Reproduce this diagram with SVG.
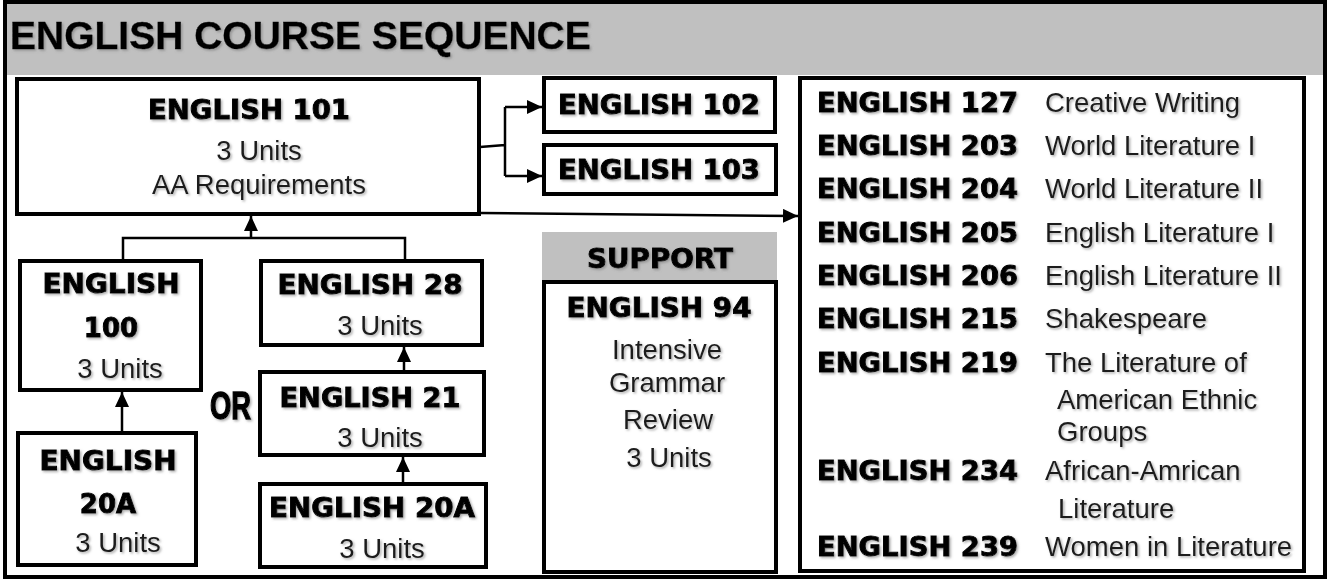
<svg xmlns="http://www.w3.org/2000/svg" width="1328" height="580" viewBox="0 0 1328 580">
<style>
.box{fill:#fff;stroke:#000;stroke-width:4;}
.hdr{fill:#c0c0c0;}
.b{font-family:"DejaVu Sans",sans-serif;font-weight:bold;font-size:26px;fill:#000;stroke:#000;stroke-width:0.9;}
.r{font-family:"Liberation Sans",Arial,sans-serif;font-size:27.5px;fill:#1e1e1e;}
.c{text-anchor:middle;}
.t{font-family:"Liberation Sans",Arial,sans-serif;font-weight:bold;font-size:39px;fill:#000;}
.ln{fill:none;stroke:#000;stroke-width:2.5;}
.sh{filter:url(#shadow);}
</style>
<defs>
<filter id="shadow" x="-10%" y="-30%" width="120%" height="160%">
<feDropShadow dx="1.5" dy="1.5" stdDeviation="0.9" flood-color="#777" flood-opacity="0.6"/>
</filter>
<marker id="arr" markerUnits="userSpaceOnUse" markerWidth="16" markerHeight="15" refX="15" refY="7" orient="auto">
<path d="M0,0 L15,7 L0,14 z" fill="#000"/>
</marker>
</defs>
<rect x="0" y="0" width="1328" height="580" fill="#fff"/>
<rect x="5" y="2" width="1320" height="575" fill="#fff" stroke="#000" stroke-width="4"/>
<g id="header">
<rect class="hdr" x="7" y="4" width="1316" height="71"/>
<text class="t sh" x="10" y="49" style="stroke:#000;stroke-width:0.4">ENGLISH COURSE SEQUENCE</text>
</g>
<g id="connectors">
<path class="ln" d="M480,147 L505,145 M505,107 V176"/>
<path class="ln" d="M505,107 H542" marker-end="url(#arr)"/>
<path class="ln" d="M505,176 H542" marker-end="url(#arr)"/>
<path class="ln" d="M480,213 L798,216" marker-end="url(#arr)"/>
<path class="ln" d="M123,260 V238 H405 V260"/>
<path class="ln" d="M251,238 V216" marker-end="url(#arr)"/>
<path class="ln" d="M122,432 V392" marker-end="url(#arr)"/>
<path class="ln" d="M404,371 V347" marker-end="url(#arr)"/>
<path class="ln" d="M403,483 V457" marker-end="url(#arr)"/>
</g>
<g id="eng101">
<rect class="box" x="17" y="79" width="462" height="135"/>
<g class="sh">
<text class="b c" x="249" y="119" textLength="202" lengthAdjust="spacingAndGlyphs">ENGLISH 101</text>
<text class="r c" x="259" y="160">3 Units</text>
<text class="r c" x="259" y="194">AA Requirements</text>
</g>
</g>
<g id="eng102">
<rect class="box" x="544" y="78" width="231" height="54"/>
<text class="b c sh" x="659" y="114" textLength="202" lengthAdjust="spacingAndGlyphs">ENGLISH 102</text>
</g>
<g id="eng103">
<rect class="box" x="544" y="145" width="232" height="49"/>
<text class="b c sh" x="659" y="179" textLength="202" lengthAdjust="spacingAndGlyphs">ENGLISH 103</text>
</g>
<g id="eng100">
<rect class="box" x="20" y="261" width="181" height="129"/>
<g class="sh">
<text class="b c" x="111" y="293" textLength="137" lengthAdjust="spacingAndGlyphs">ENGLISH</text>
<text class="b c" x="111" y="337">100</text>
<text class="r c" x="120" y="378">3 Units</text>
</g>
</g>
<g id="eng20a-left">
<rect class="box" x="18" y="433" width="178" height="132"/>
<g class="sh">
<text class="b c" x="108" y="470" textLength="137" lengthAdjust="spacingAndGlyphs">ENGLISH</text>
<text class="b c" x="108" y="513">20A</text>
<text class="r c" x="118" y="552">3 Units</text>
</g>
</g>
<g id="or">
<text class="t sh" x="210" y="419" textLength="41" lengthAdjust="spacingAndGlyphs" style="stroke:#000;stroke-width:1.4">OR</text>
</g>
<g id="eng28">
<rect class="box" x="261" y="261" width="221" height="84"/>
<g class="sh">
<text class="b c" x="370" y="294" textLength="185" lengthAdjust="spacingAndGlyphs">ENGLISH 28</text>
<text class="r c" x="380" y="335">3 Units</text>
</g>
</g>
<g id="eng21">
<rect class="box" x="260" y="372" width="224" height="83"/>
<g class="sh">
<text class="b c" x="370" y="407" textLength="181" lengthAdjust="spacingAndGlyphs">ENGLISH 21</text>
<text class="r c" x="380" y="447">3 Units</text>
</g>
</g>
<g id="eng20a-right">
<rect class="box" x="260" y="484" width="226" height="83"/>
<g class="sh">
<text class="b c" x="372" y="517" textLength="206" lengthAdjust="spacingAndGlyphs">ENGLISH 20A</text>
<text class="r c" x="382" y="558">3 Units</text>
</g>
</g>
<g id="support">
<rect class="hdr" x="542" y="232" width="235" height="50"/>
<rect class="box" x="544" y="282" width="232" height="290"/>
<g class="sh">
<text class="b c" x="660" y="268" textLength="146" lengthAdjust="spacingAndGlyphs">SUPPORT</text>
<text class="b c" x="659" y="317" textLength="185" lengthAdjust="spacingAndGlyphs">ENGLISH 94</text>
<text class="r c" x="667" y="359">Intensive</text>
<text class="r c" x="667" y="392">Grammar</text>
<text class="r c" x="668" y="429">Review</text>
<text class="r c" x="669" y="467">3 Units</text>
</g>
</g>
<g id="electives">
<rect class="box" x="800" y="78" width="504" height="493"/>
<g class="sh">
<text class="b" x="817" y="112" textLength="201" lengthAdjust="spacingAndGlyphs">ENGLISH 127</text>
<text class="r" x="1045" y="112">Creative Writing</text>
<text class="b" x="817" y="155" textLength="201" lengthAdjust="spacingAndGlyphs">ENGLISH 203</text>
<text class="r" x="1045" y="155">World Literature I</text>
<text class="b" x="817" y="198" textLength="201" lengthAdjust="spacingAndGlyphs">ENGLISH 204</text>
<text class="r" x="1045" y="198">World Literature II</text>
<text class="b" x="817" y="242" textLength="201" lengthAdjust="spacingAndGlyphs">ENGLISH 205</text>
<text class="r" x="1045" y="242">English Literature I</text>
<text class="b" x="817" y="285" textLength="201" lengthAdjust="spacingAndGlyphs">ENGLISH 206</text>
<text class="r" x="1045" y="285">English Literature II</text>
<text class="b" x="817" y="328" textLength="201" lengthAdjust="spacingAndGlyphs">ENGLISH 215</text>
<text class="r" x="1045" y="328">Shakespeare</text>
<text class="b" x="817" y="372" textLength="201" lengthAdjust="spacingAndGlyphs">ENGLISH 219</text>
<text class="r" x="1045" y="372">The Literature of</text>
<text class="r" x="1057" y="409">American Ethnic</text>
<text class="r" x="1057" y="441">Groups</text>
<text class="b" x="817" y="480" textLength="201" lengthAdjust="spacingAndGlyphs">ENGLISH 234</text>
<text class="r" x="1045" y="480">African-Amrican</text>
<text class="r" x="1058" y="518">Literature</text>
<text class="b" x="817" y="556" textLength="201" lengthAdjust="spacingAndGlyphs">ENGLISH 239</text>
<text class="r" x="1045" y="556">Women in Literature</text>
</g>
</g>
</svg>
